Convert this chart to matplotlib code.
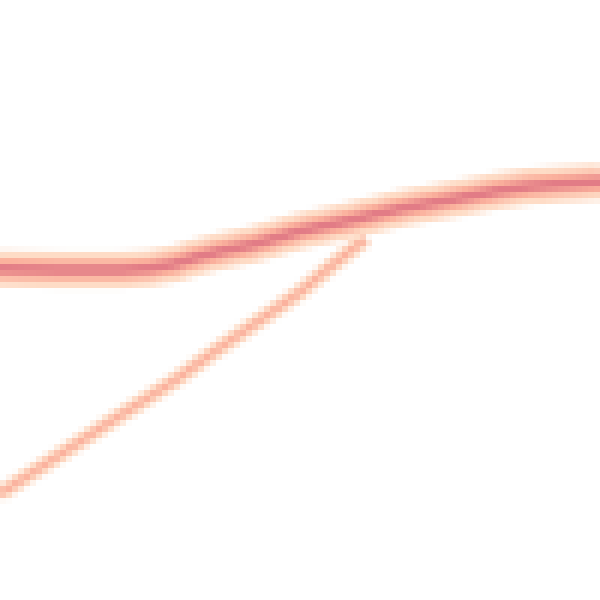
import numpy as np
import matplotlib
matplotlib.use("Agg")
import matplotlib.pyplot as plt

# main (thick) trajectory
main_x = [0, 10, 20, 25, 29, 33, 37, 42, 50, 58, 67, 75, 83, 88, 92, 100]
main_y = [55.2, 55.0, 55.0, 55.3, 56.0, 57.2, 58.2, 59.2, 61.5, 63.2, 65.3, 66.7, 68.2, 68.9, 69.2, 69.7]

# branch (thin) trajectory joining the main one
branch_x = [0, 17, 29, 37, 45, 50, 55, 61]
branch_y = [17.7, 28.8, 36.5, 42.3, 47.8, 51.3, 55.5, 60.3]

light = "#fedcc6"
mid = "#fbb19d"
dark = "#e27c86"

# render at low resolution first, then blow up with nearest-neighbour
grid = 100
small = plt.figure(figsize=(1, 1), dpi=grid)
ax = small.add_axes([0, 0, 1, 1])
ax.set_xlim(0, 100)
ax.set_ylim(0, 100)
ax.axis("off")
ax.plot(branch_x, branch_y, color=light, lw=2.0, solid_capstyle="butt")
ax.plot(branch_x, branch_y, color=mid, lw=0.8, solid_capstyle="butt")
ax.plot(main_x, main_y, color=light, lw=4.4, solid_capstyle="butt")
ax.plot(main_x, main_y, color=mid, lw=2.6, solid_capstyle="butt")
ax.plot(main_x, main_y, color=dark, lw=1.1, solid_capstyle="butt")
small.canvas.draw()
img = np.asarray(small.canvas.buffer_rgba()).copy()
plt.close(small)

fig = plt.figure(figsize=(6, 6), dpi=100)
ax2 = fig.add_axes([0, 0, 1, 1])
ax2.imshow(img, interpolation="nearest")
ax2.axis("off")
fig.savefig("out.png", dpi=100)
